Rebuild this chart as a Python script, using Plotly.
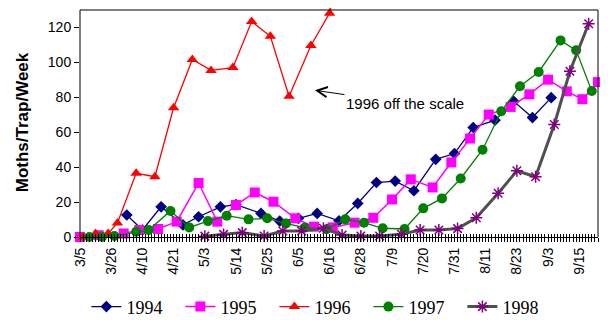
import plotly.graph_objects as go

# x positions are category indices on the sampling axis (labels every 10 categories)
tick_pos = [0, 10, 20, 30, 40, 50, 60, 70, 80, 90, 100, 110, 120, 130, 140, 150, 160]
tick_labels = ["3/5", "3/26", "4/10", "4/21", "5/3", "5/14", "5/25", "6/5", "6/16",
               "6/28", "7/9", "7/20", "7/31", "8/11", "8/23", "9/3", "9/15"]

x1994 = [15, 20, 26, 33, 38, 45, 50, 58, 64, 70, 76, 83, 89, 95, 101, 107, 114, 120, 126, 133, 139, 145, 151]
y1994 = [12.6, 4, 17.3, 6.9, 11.6, 17.3, 18.5, 13.5, 9.1, 10.7, 13.5, 9.3, 19.2, 31.2, 32, 26.5, 44.5,
         47.8, 62.7, 66.9, 77.7, 68.4, 79.8]

x1995 = [0, 6, 14, 19, 25, 31, 38, 44, 50, 56, 62, 69, 75, 81, 88, 94, 100, 106, 113, 119, 125, 131,
         138, 144, 150, 156, 161, 166]
y1995 = [0, 1, 2, 4, 4.6, 8.8, 30.9, 8.8, 18.3, 25.5, 20.2, 10.7, 5.9, 5.5, 8.2, 11, 21.5, 33, 28.4,
         42.7, 56.4, 70.1, 74.5, 81.7, 90.1, 83.4, 78.9, 88.7]

x1996 = [1, 5, 9, 12, 18, 24, 30, 36, 42, 49, 55, 61, 67, 74, 80, 86]
y1996 = [0, 2, 2, 8, 36.5, 34.5, 74, 101.7, 95.4, 97, 123.4, 114.9, 80.6, 109.7, 128.2, 180]

x1997 = [3, 7, 11, 18, 22, 29, 35, 41, 47, 54, 60, 66, 72, 79, 85, 91, 97, 104, 110, 116, 122, 129,
         135, 141, 147, 154, 159, 164]
y1997 = [0, 0, 0.6, 3, 4, 14.9, 5.5, 9.1, 12.2, 10.1, 10.7, 7.8, 5.3, 4.4, 10.1, 8.2, 5, 4.6, 16.4,
         22.1, 33.5, 50, 72, 86.3, 94.5, 112.6, 106.9, 83.6]

x1998 = [40, 46, 52, 59, 65, 71, 78, 84, 90, 96, 103, 109, 115, 121, 127, 134, 140, 146, 152, 157, 163]
y1998 = [0.5, 1.5, 2.5, 0.6, 3.4, 3.4, 5, 1.1, 0.6, 0.6, 1.6, 4, 4, 4.8, 11, 25, 37.9, 34.5, 64.4,
         94.9, 122.1]

y_ticks = [0, 20, 40, 60, 80, 100, 120]
y_top = 130
x_max = 166

AX_FONT = "Arial, Liberation Sans, sans-serif"
LEG_FONT = "Times New Roman, Liberation Serif, serif"

fig = go.Figure()

fig.add_trace(go.Scatter(x=x1994, y=y1994, name="1994", mode="lines+markers",
                         line=dict(color="#000080", width=1.3),
                         marker=dict(symbol="diamond", size=9, color="#000080"),
                         cliponaxis=False))
fig.add_trace(go.Scatter(x=x1995, y=y1995, name="1995", mode="lines+markers",
                         line=dict(color="#FF00FF", width=1.5),
                         marker=dict(symbol="square", size=10, color="#FF00FF"),
                         cliponaxis=False))
fig.add_trace(go.Scatter(x=x1996, y=y1996, name="1996", mode="lines+markers",
                         line=dict(color="#FF0000", width=1.3),
                         marker=dict(symbol="triangle-up", size=10, color="#FF0000"),
                         cliponaxis=False))
fig.add_trace(go.Scatter(x=x1997, y=y1997, name="1997", mode="lines+markers",
                         line=dict(color="#008000", width=1.3),
                         marker=dict(symbol="circle", size=10, color="#008000"),
                         cliponaxis=False))
fig.add_trace(go.Scatter(x=x1998, y=y1998, name="1998", mode="lines+markers",
                         line=dict(color="#505050", width=3),
                         marker=dict(symbol="asterisk-open", size=10, color="#800080",
                                     line=dict(color="#800080", width=1.5)),
                         cliponaxis=False))
# helper trace so the overlaying tick axis is drawn
fig.add_trace(go.Scatter(x=[0], y=[0], xaxis="x2", mode="markers",
                         marker=dict(opacity=0), showlegend=False, hoverinfo="skip"))

fig.update_layout(
    width=600, height=312,
    margin=dict(l=72, r=10, t=0, b=83, autoexpand=False),
    paper_bgcolor="white", plot_bgcolor="white",
    showlegend=True,
    legend=dict(orientation="h", x=0.466, xanchor="center", yref="container", y=0.042,
                yanchor="middle",
                font=dict(family=LEG_FONT, size=18, color="#000"),
                entrywidth=49, bgcolor="rgba(0,0,0,0)"),
    xaxis=dict(range=[0, x_max], tickmode="array", tickvals=tick_pos, ticktext=tick_labels,
               tickangle=-90, ticks="outside", ticklen=4, tickcolor="#000", tickwidth=1,
               showline=True, linecolor="#000", linewidth=1, showgrid=False, zeroline=False,
               automargin=False,
               minor=dict(dtick=1, tick0=0, ticks="outside", ticklen=4, tickcolor="#000", tickwidth=1),
               tickfont=dict(family=AX_FONT, size=14, color="#000")),
    xaxis2=dict(range=[0, x_max], overlaying="x", anchor="y", side="bottom",
                tick0=0, dtick=1, ticks="inside", ticklen=3, tickcolor="#000", tickwidth=1,
                automargin=False,
                showticklabels=False, showline=False, showgrid=False, zeroline=False),
    yaxis=dict(range=[0, 131.14], tickmode="array", tickvals=y_ticks,
               ticks="outside", ticklen=5, tickcolor="#000", tickwidth=1,
               showline=False, showgrid=False, zeroline=False, automargin=False,
               tickfont=dict(family=AX_FONT, size=14, color="#000"),
               title=dict(text="<b>Moths/Trap/Week</b>", font=dict(family=AX_FONT, size=17, color="#000"),
                          standoff=14)),
    shapes=[
        dict(type="line", xref="paper", yref="y", x0=0, x1=0, y0=0, y1=y_top,
             line=dict(color="#000", width=1), layer="above"),
        dict(type="line", xref="paper", yref="y", x0=0, x1=1, y0=y_top, y1=y_top,
             line=dict(color="#000", width=1), layer="above"),
        dict(type="line", xref="paper", yref="y", x0=1, x1=1, y0=0, y1=y_top,
             line=dict(color="#000", width=1), layer="above"),
    ],
    annotations=[
        dict(x=75.3, y=84, xref="x", yref="y", text="1996 off the scale",
             showarrow=True, ax=90, ay=13, arrowhead=5, arrowsize=2, arrowwidth=1,
             arrowcolor="#000", font=dict(family=AX_FONT, size=15, color="#000")),
    ],
)

fig.write_html("out.html")
